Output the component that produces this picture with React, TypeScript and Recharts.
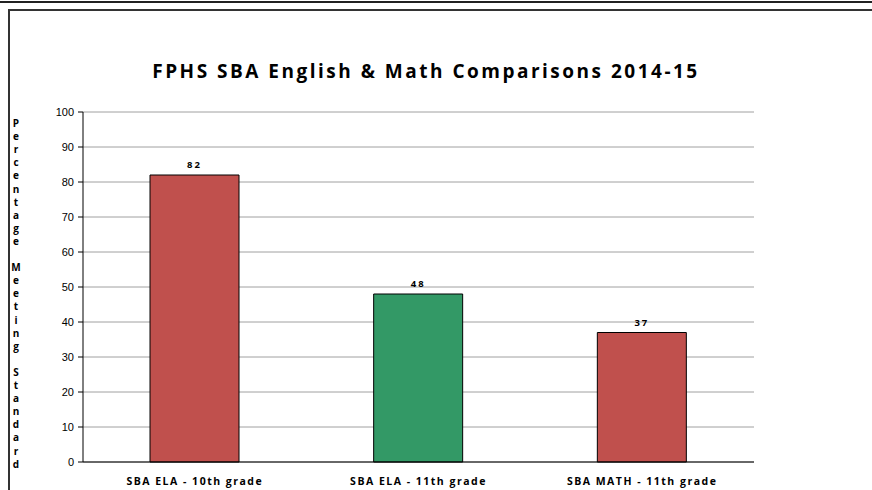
import React from 'react';
import { BarChart, Bar, XAxis, YAxis, CartesianGrid, LabelList, Cell } from 'recharts';

const categories = ['SBA ELA - 10th grade', 'SBA ELA - 11th grade', 'SBA MATH - 11th grade'];
const values = [82, 48, 37];
const barColors = ['#C0504D', '#339966', '#C0504D'];
const yTicks = [0, 10, 20, 30, 40, 50, 60, 70, 80, 90, 100];
const title = 'FPHS SBA English & Math Comparisons 2014-15';
const yLabel = 'Percentage Meeting Standard';

const data = categories.map((name, i) => ({ name, value: values[i] }));
// category boundaries for the x tick marks (0..n)
const boundaryTicks = [0, ...categories.map((_, i) => i + 1)];

export default function App() {
  const letters = yLabel.split('');

  return (
    <div style={{ position: 'absolute', left: 0, top: 0, width: 872, height: 490, background: '#fff', overflow: 'hidden' }}>
      {/* frame lines */}
      <div style={{ position: 'absolute', left: 0, top: 1, width: 872, height: 2, background: '#222' }} />
      <div style={{ position: 'absolute', left: 8, top: 9, width: 864, height: 2, background: '#333' }} />
      <div style={{ position: 'absolute', left: 8, top: 9, width: 2, height: 481, background: '#333' }} />

      <div
        style={{
          position: 'absolute',
          left: 0,
          top: 59,
          width: 852,
          textAlign: 'center',
          fontFamily: '"Open Sans", sans-serif',
          fontWeight: 700,
          fontSize: 19,
          letterSpacing: 2.5,
          lineHeight: '24px',
          color: '#000',
        }}
      >
        {title}
      </div>

      <svg style={{ position: 'absolute', left: 0, top: 0 }} width={40} height={490}>
        {letters.map((ch, i) => (
          <text
            key={i}
            x={16}
            y={127 + i * 13.1}
            textAnchor="middle"
            fontFamily='"Open Sans", sans-serif'
            fontWeight={700}
            fontSize={10}
            fill="#000"
          >
            {ch}
          </text>
        ))}
      </svg>

      <div style={{ position: 'absolute', left: 0, top: 0 }}>
        <BarChart
          width={872}
          height={490}
          data={data}
          margin={{ top: 112, right: 118, left: 23, bottom: 0 }}
          barSize={89}
        >
          <CartesianGrid vertical={false} stroke="#a0a0a0" />
          <XAxis
            xAxisId="bounds"
            type="number"
            dataKey={() => 0}
            domain={[0, categories.length]}
            ticks={boundaryTicks}
            interval={0}
            height={0}
            tick={false}
            tickSize={5}
            tickLine={{ stroke: '#000' }}
            axisLine={false}
          />
          <XAxis
            dataKey="name"
            height={28}
            tickLine={false}
            axisLine={{ stroke: '#000' }}
            interval={0}
            tick={{ fontSize: 10.5, fontWeight: 700, fill: '#000', fontFamily: '"Open Sans", sans-serif', letterSpacing: 1.5 }}
            tickMargin={10}
          />
          <YAxis
            width={60}
            domain={[0, 100]}
            ticks={yTicks}
            interval={0}
            tickSize={5}
            tickMargin={4}
            axisLine={{ stroke: '#000' }}
            tickLine={{ stroke: '#000' }}
            tick={{ fontSize: 11, fill: '#000', fontFamily: '"Liberation Sans", Arial, sans-serif' }}
          />
          <YAxis
            yAxisId="frame"
            orientation="right"
            width={0}
            domain={[0, 100]}
            tick={false}
            tickLine={false}
            axisLine={{ stroke: '#b0b0b0', strokeWidth: 2 }}
          />
          <Bar dataKey="value" stroke="#000" strokeWidth={1} isAnimationActive={false}>
            {data.map((d, i) => (
              <Cell key={d.name} fill={barColors[i]} />
            ))}
            <LabelList
              dataKey="value"
              position="top"
              offset={7}
              style={{ fontSize: 9.5, fontWeight: 700, fill: '#000', fontFamily: '"Open Sans", sans-serif', letterSpacing: 2 }}
            />
          </Bar>
        </BarChart>
      </div>
    </div>
  );
}
